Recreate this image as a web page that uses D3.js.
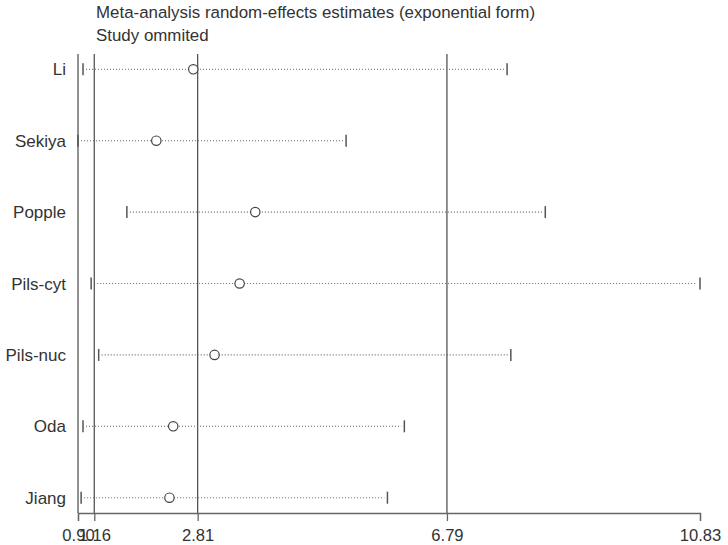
<!DOCTYPE html>
<html>
<head>
<meta charset="utf-8">
<script src="https://cdn.jsdelivr.net/npm/d3@7"></script>
<style>
  body { margin: 0; background: #fff; }
  text { font-family: "Liberation Sans", Arial, sans-serif; fill: #333; }
</style>
</head>
<body>
<div id="visualization"></div>
<script>
let studies = ['Li', 'Sekiya', 'Popple', 'Pils-cyt', 'Pils-nuc', 'Oda', 'Jiang']
let estimates = [2.74, 2.15, 3.73, 3.48, 3.08, 2.42, 2.36]
let lowerCI = [0.98, 0.90, 1.68, 1.11, 1.23, 0.98, 0.95]
let upperCI = [7.75, 5.18, 8.36, 10.83, 7.81, 6.11, 5.84]
let tickValues = [0.90, 1.16, 2.81, 6.79, 10.83]
let refLines = [0.90, 1.16, 2.81, 6.79]

let data = studies.map((name, i) => {
  return { name: name, est: estimates[i], lo: lowerCI[i], hi: upperCI[i] }
})

let svg = d3.select('#visualization')
  .append('svg')
    .attr('width', 728)
    .attr('height', 545)

let x = d3.scaleLinear()
  .domain([0.90, 10.83])
  .range([78, 700])

let y = d3.scalePoint()
  .domain(studies)
  .range([69.3, 497.7])

let plotTop = 54
let plotBottom = 513

// title
svg.append('text')
  .attr('x', 96)
  .attr('y', 18)
  .attr('font-size', 16.9)
  .text('Meta-analysis random-effects estimates (exponential form)')

svg.append('text')
  .attr('x', 96)
  .attr('y', 41)
  .attr('font-size', 16.9)
  .text('Study ommited')

// reference lines
svg.selectAll('.ref')
  .data(refLines)
  .enter()
  .append('line')
    .attr('x1', d => x(d))
    .attr('x2', d => x(d))
    .attr('y1', plotTop)
    .attr('y2', plotBottom)
    .attr('stroke', '#555')
    .attr('stroke-width', 1.3)

// x axis
let axis = svg.append('g')
  .attr('transform', `translate(0,${plotBottom})`)
  .call(d3.axisBottom(x)
    .tickValues(tickValues)
    .tickFormat(d3.format('.2f'))
    .tickSizeOuter(0)
    .tickSize(8)
    .tickPadding(8))

axis.select('.domain').attr('stroke', '#666').attr('stroke-width', 1.3)
axis.selectAll('.tick line').attr('stroke', '#666').attr('stroke-width', 1.3)
axis.selectAll('.tick text')
  .attr('font-size', 16.6)
  .attr('font-family', '"Liberation Sans", Arial, sans-serif')
  .attr('fill', '#333')

// study labels
svg.selectAll('.label')
  .data(data)
  .enter()
  .append('text')
    .attr('x', 66)
    .attr('y', d => y(d.name))
    .attr('dy', '0.36em')
    .attr('text-anchor', 'end')
    .attr('font-size', 17)
    .text(d => d.name)

// dotted interval lines
svg.selectAll('.ci')
  .data(data)
  .enter()
  .append('line')
    .attr('x1', d => x(d.lo) + 3)
    .attr('x2', d => x(d.hi) - 3)
    .attr('y1', d => y(d.name))
    .attr('y2', d => y(d.name))
    .attr('stroke', '#666')
    .attr('stroke-width', 1.1)
    .attr('stroke-dasharray', '1,2')

// interval end ticks
let ends = data.flatMap(d => [{ name: d.name, v: d.lo }, { name: d.name, v: d.hi }])

svg.selectAll('.end')
  .data(ends)
  .enter()
  .append('line')
    .attr('x1', d => x(d.v))
    .attr('x2', d => x(d.v))
    .attr('y1', d => y(d.name) - 6)
    .attr('y2', d => y(d.name) + 6)
    .attr('stroke', '#555')
    .attr('stroke-width', 1.5)

// point estimates
svg.selectAll('.est')
  .data(data)
  .enter()
  .append('circle')
    .attr('cx', d => x(d.est))
    .attr('cy', d => y(d.name))
    .attr('r', 4.7)
    .attr('fill', '#fff')
    .attr('stroke', '#444')
    .attr('stroke-width', 1.2)
</script>
</body>
</html>
